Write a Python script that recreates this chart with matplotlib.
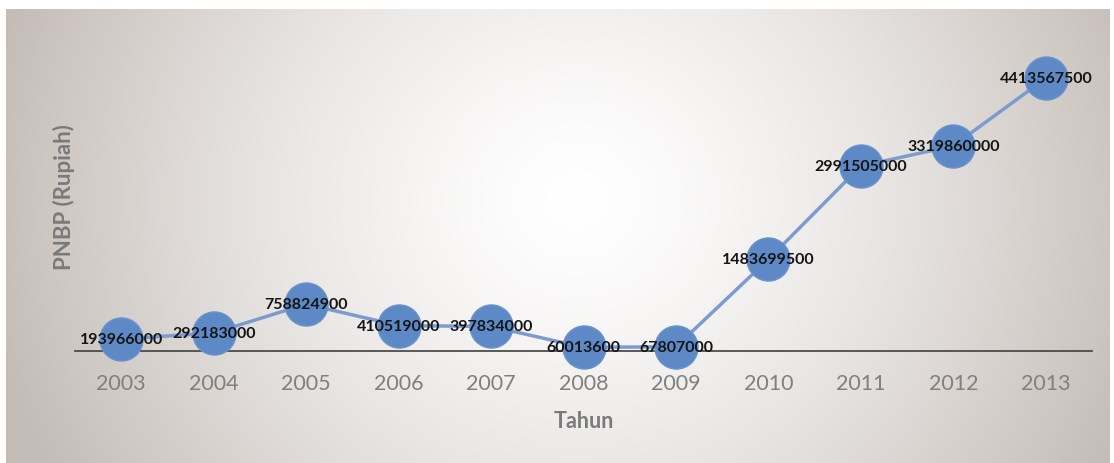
import numpy as np
import matplotlib.pyplot as plt

# data
years = ['2003', '2004', '2005', '2006', '2007', '2008', '2009', '2010', '2011', '2012', '2013']
pnbp = [193966000, 292183000, 758824900, 410519000, 397834000, 60013600,
        67807000, 1483699500, 2991505000, 3319860000, 4413567500]

plt.rcParams['font.family'] = ['Lato', 'DejaVu Sans']

W, H = 1114, 464
fig = plt.figure(figsize=(W / 100, H / 100), dpi=100)
fig.patch.set_facecolor('white')

# radial gradient background (white centre, greyish-beige edges)
bg = fig.add_axes([6 / W, 0, (1110 - 6) / W, (H - 10) / H])
bg.set_axis_off()
yy, xx = np.mgrid[0:454, 0:1104]
cx, cy = 570, 190
r = np.sqrt(((xx - cx) / 600.0) ** 2 + ((yy - cy) / 560.0) ** 2)
t = np.clip(r, 0, 1) ** 1.4
edge = np.array([196, 188, 182]) / 255.0
img = 1 - t[..., None] * (1 - edge[None, None, :])
bg.imshow(img, aspect='auto', interpolation='bilinear')

ax = fig.add_axes([75 / W, (H - 352) / H, (1092 - 75) / W, 309 / H])
ax.set_facecolor('none')
x = np.arange(len(years))
ax.plot(x, pnbp, color='#7c9bd0', lw=2.5, marker='o', ms=31,
        mfc='#5d89c7', mec='#6a92cc', mew=1, clip_on=False, zorder=3)
for xi, v in zip(x, pnbp):
    ax.text(xi, v, str(v), ha='center', va='center', fontsize=11.5,
            fontweight='bold', color='#151515', zorder=4, clip_on=False)

ax.set_xlim(-0.5, len(years) - 0.5)
ax.set_ylim(0, 5e9)
ax.set_xticks(x)
ax.set_xticklabels(years, fontsize=15.5, color='#808080')
ax.tick_params(axis='x', length=0, pad=16)
ax.set_yticks([])
for s in ['top', 'right', 'left']:
    ax.spines[s].set_visible(False)
ax.spines['bottom'].set_color('#404040')
ax.spines['bottom'].set_linewidth(1.2)
ax.set_xlabel('Tahun', fontsize=15.5, fontweight='bold', color='#7a7a7a', labelpad=12)
ax.set_ylabel('PNBP (Rupiah)', fontsize=16, fontweight='bold', color='#7a7a7a', labelpad=0)

fig.savefig('out.png', dpi=100)
